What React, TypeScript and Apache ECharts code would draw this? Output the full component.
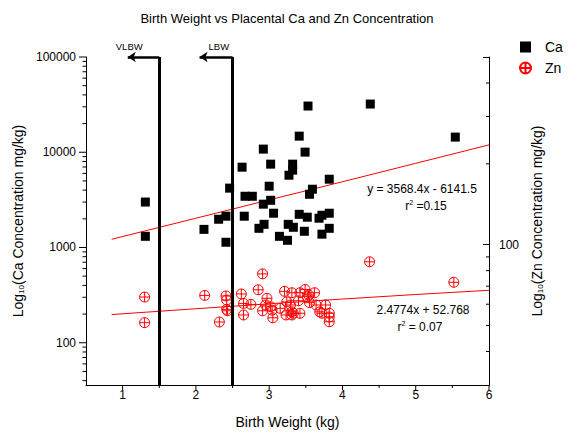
import React, { useEffect, useRef } from 'react';
import * as echarts from 'echarts';

const FONT = "'Liberation Sans', Arial, Helvetica, sans-serif";

// Ca (left axis, log) : [birth weight kg, mg/kg]
const caData: [number, number][] = [
  [1.31, 3000], [1.31, 1310], [2.11, 1550], [2.31, 1980], [2.41, 2130], [2.41, 1135],
  [2.46, 4200], [2.63, 6970], [2.67, 3450], [2.77, 3450], [2.66, 2130], [2.86, 1590],
  [2.93, 1750], [2.92, 10790], [2.92, 2850], [3.0, 4400], [3.02, 7500], [3.02, 3130],
  [3.06, 2290], [3.14, 1310], [3.25, 1190], [3.26, 1750], [3.33, 1630], [3.27, 5740],
  [3.32, 6490], [3.32, 7500], [3.41, 14760], [3.41, 2230], [3.48, 1480], [3.49, 10030],
  [3.52, 2080], [3.53, 30550], [3.55, 3620], [3.59, 4090], [3.68, 2030], [3.72, 2180],
  [3.72, 1380], [3.82, 5210], [3.82, 2290], [3.82, 1590], [4.38, 32060], [5.54, 14420],
];

// Zn (right axis, log) : [birth weight kg, mg/kg]
const znData: [number, number][] = [
  [1.3, 63.8], [1.3, 51.2], [2.12, 64.7], [2.32, 51.5], [2.41, 64.4], [2.42, 62.2],
  [2.42, 57.4], [2.43, 56.7], [2.62, 65.5], [2.65, 60.4], [2.65, 54.7], [2.75, 59.9],
  [2.85, 67.9], [2.91, 77.8], [2.91, 56.7], [2.97, 63.1], [2.95, 59.6], [3.02, 58.7],
  [3.04, 57.0], [3.05, 53.4], [3.15, 57.9], [3.21, 67.0], [3.24, 61.2], [3.23, 54.7],
  [3.29, 59.6], [3.31, 66.2], [3.31, 56.2], [3.31, 54.7], [3.33, 55.5], [3.4, 61.8],
  [3.42, 66.2], [3.42, 55.5], [3.49, 68.1], [3.52, 64.0], [3.54, 64.9], [3.55, 60.8],
  [3.62, 66.2], [3.64, 59.6], [3.69, 56.2], [3.72, 55.5], [3.77, 59.6], [3.82, 55.5],
  [3.82, 53.8], [3.82, 51.6], [4.37, 86.3], [5.52, 72.4],
];

// fitted lines as drawn
const fitX = [0.85, 2, 3, 4, 5, 6];
const caFitY = [1220, 2030, 3160, 4900, 7650, 11950];
const znFitY = [54.9, 57.7, 60.2, 62.7, 65.2, 67.6];

// thresholds
const cutNames = ['VLBW', 'LBW'];
const cutX = [1.5, 2.5];
const cutArrowTo = [1.07, 2.05];
const cutLabelShift = [-12, 9];

// axis ranges and ticks
const xMin = 0.5;
const xMax = 6;
const caMin = 36;
const caMax = 100000;
const znMin = 30;
const znMax = 500;
const xMajorTicks = [1, 2, 3, 4, 5, 6];
const xMinorTicks = [1.5, 2.5, 3.5, 4.5, 5.5];
const caMajorTicks = [100, 1000, 10000, 100000];
const caMinorTicks = [
  40, 50, 60, 70, 80, 90,
  200, 300, 400, 500, 600, 700, 800, 900,
  2000, 3000, 4000, 5000, 6000, 7000, 8000, 9000,
  20000, 30000, 40000, 50000, 60000, 70000, 80000, 90000,
];
const znMinorTicks = [40, 50, 60, 70, 80, 90, 200, 300, 400];

const isPow10 = (v: number) => {
  const l = Math.log10(v);
  return Math.abs(l - Math.round(l)) < 1e-6;
};

function hTicks(values: number[], yAxisIndex: number, xAt: number, dx0: number, dx1: number) {
  return {
    type: 'custom',
    silent: true,
    clip: false,
    xAxisIndex: 0,
    yAxisIndex,
    z: 6,
    data: values.map((v) => [xAt, v]),
    renderItem: (_p: any, api: any) => {
      const p = api.coord([api.value(0), api.value(1)]);
      return {
        type: 'line',
        shape: { x1: p[0] + dx0, y1: p[1], x2: p[0] + dx1, y2: p[1] },
        style: { stroke: '#000', lineWidth: 1 },
      };
    },
  };
}

function vTicks(values: number[], len: number) {
  return {
    type: 'custom',
    silent: true,
    clip: false,
    xAxisIndex: 0,
    yAxisIndex: 0,
    z: 6,
    data: values.map((v) => [v, caMin]),
    renderItem: (_p: any, api: any) => {
      const p = api.coord([api.value(0), api.value(1)]);
      return {
        type: 'line',
        shape: { x1: p[0], y1: p[1], x2: p[0], y2: p[1] + len },
        style: { stroke: '#000', lineWidth: 1 },
      };
    },
  };
}

const znSymbol =
  'path://M10 0A10 10 0 1 1 10 20A10 10 0 1 1 10 0ZM0 10L20 10M10 0L10 20';

export default function App() {
  const ref = useRef<HTMLDivElement>(null);

  useEffect(() => {
    if (!ref.current) return;
    const chart = echarts.init(ref.current, undefined, { renderer: 'svg' });

    const markData: any[] = [];
    cutNames.forEach((name, i) => {
      markData.push([{ coord: [cutX[i], caMin] }, { coord: [cutX[i], caMax] }]);
      markData.push([
        {
          coord: [cutArrowTo[i], caMax],
          symbol: 'arrow',
          symbolSize: 8,
          lineStyle: { width: 2.5 },
          label: {
            show: true,
            formatter: name,
            position: 'insideStartTop',
            distance: [cutLabelShift[i], 6],
            color: '#000',
            fontFamily: FONT,
            fontSize: 9.5,
          },
        },
        { coord: [cutX[i], caMax], symbol: 'none' },
      ]);
    });

    const sub = { fontSize: 8, fontFamily: FONT, padding: [7, 0, 0, 0] };
    const sup = { fontSize: 7, fontFamily: FONT, padding: [0, 0, 7, 0] };

    const option: any = {
      animation: false,
      backgroundColor: '#fff',
      title: {
        text: 'Birth Weight vs Placental Ca and Zn Concentration',
        left: 'center',
        top: 7,
        textStyle: { fontFamily: FONT, fontSize: 13, fontWeight: 'normal', color: '#000' },
      },
      legend: {
        orient: 'vertical',
        left: 514,
        top: 35,
        itemWidth: 11,
        itemHeight: 11,
        itemGap: 7,
        data: ['Ca', 'Zn'],
        textStyle: { fontFamily: FONT, fontSize: 14, color: '#000', padding: [0, 0, 0, 9] },
      },
      grid: { left: 86, right: 85, top: 57, bottom: 50 },
      xAxis: {
        type: 'value',
        min: xMin,
        max: xMax,
        interval: 0.5,
        name: 'Birth Weight (kg)',
        nameLocation: 'middle',
        nameGap: 30,
        nameTextStyle: { fontFamily: FONT, fontSize: 14, color: '#000' },
        axisLine: { show: true, onZero: false, lineStyle: { color: '#000', width: 1 } },
        axisTick: { show: false },
        splitLine: { show: false },
        axisLabel: {
          margin: 4,
          fontFamily: FONT,
          fontSize: 12,
          color: '#000',
          formatter: (v: number) => (xMajorTicks.includes(v) ? String(v) : ''),
        },
      },
      yAxis: [
        {
          type: 'log',
          logBase: 10,
          min: caMin,
          max: caMax,
          position: 'left',
          name: '{a|Log}{s|10}{a|(Ca Concentration mg/kg)}',
          nameLocation: 'middle',
          nameRotate: 90,
          nameGap: 58,
          nameTextStyle: {
            fontFamily: FONT,
            fontSize: 14,
            color: '#000',
            rich: { a: { fontFamily: FONT, fontSize: 14, color: '#000' }, s: { ...sub, color: '#000' } },
          },
          axisLine: { show: true, lineStyle: { color: '#000', width: 1 } },
          axisTick: { show: false },
          splitLine: { show: false },
          minorTick: { show: false },
          axisLabel: {
            margin: 10,
            fontFamily: FONT,
            fontSize: 12,
            color: '#000',
            formatter: (v: number) => (isPow10(v) ? String(Math.round(v)) : ''),
          },
        },
        {
          type: 'log',
          logBase: 10,
          min: znMin,
          max: znMax,
          position: 'right',
          name: '{a|Log}{s|10}{a|(Zn Concentration mg/kg)}',
          nameLocation: 'middle',
          nameRotate: 90,
          nameGap: 39,
          nameTextStyle: {
            fontFamily: FONT,
            fontSize: 14,
            color: '#000',
            rich: { a: { fontFamily: FONT, fontSize: 14, color: '#000' }, s: { ...sub, color: '#000' } },
          },
          axisLine: { show: true, lineStyle: { color: '#000', width: 1 } },
          axisTick: { show: true, inside: true, length: 6, lineStyle: { color: '#000' } },
          splitLine: { show: false },
          minorTick: { show: false },
          axisLabel: {
            margin: 10,
            fontFamily: FONT,
            fontSize: 12,
            color: '#000',
            formatter: (v: number) => (isPow10(v) ? String(Math.round(v)) : ''),
          },
        },
      ],
      graphic: [
        {
          type: 'text',
          x: 422,
          y: 189,
          style: {
            text: 'y = 3568.4x - 6141.5',
            fontFamily: FONT,
            fontSize: 12,
            fill: '#000',
            align: 'center',
            verticalAlign: 'middle',
          },
        },
        {
          type: 'text',
          x: 426,
          y: 206,
          style: {
            text: '{a|r}{s|2}{a| =0.15}',
            fill: '#000',
            align: 'center',
            verticalAlign: 'middle',
            rich: { a: { fontFamily: FONT, fontSize: 12, fill: '#000' }, s: { ...sup, fill: '#000' } },
          },
        },
        {
          type: 'text',
          x: 423,
          y: 310,
          style: {
            text: '2.4774x + 52.768',
            fontFamily: FONT,
            fontSize: 12,
            fill: '#000',
            align: 'center',
            verticalAlign: 'middle',
          },
        },
        {
          type: 'text',
          x: 420,
          y: 327,
          style: {
            text: '{a|r}{s|2}{a| = 0.07}',
            fill: '#000',
            align: 'center',
            verticalAlign: 'middle',
            rich: { a: { fontFamily: FONT, fontSize: 12, fill: '#000' }, s: { ...sup, fill: '#000' } },
          },
        },
      ],
      series: [
        {
          name: 'Ca fit',
          type: 'line',
          yAxisIndex: 0,
          data: fitX.map((x, i) => [x, caFitY[i]]),
          showSymbol: false,
          symbol: 'none',
          lineStyle: { color: '#ff0000', width: 1 },
          z: 3,
          silent: true,
        },
        {
          name: 'Zn fit',
          type: 'line',
          yAxisIndex: 1,
          data: fitX.map((x, i) => [x, znFitY[i]]),
          showSymbol: false,
          symbol: 'none',
          lineStyle: { color: '#ff0000', width: 1 },
          z: 3,
          silent: true,
        },
        {
          name: 'Ca',
          type: 'scatter',
          yAxisIndex: 0,
          data: caData,
          symbol: 'rect',
          symbolSize: 9,
          itemStyle: { color: '#000', opacity: 1 },
          z: 4,
          markLine: {
            silent: true,
            symbol: ['none', 'none'],
            lineStyle: { color: '#000', width: 3, type: 'solid' },
            label: { show: false },
            data: markData,
            z: 5,
          },
        },
        {
          name: 'Zn',
          type: 'scatter',
          yAxisIndex: 1,
          data: znData,
          symbol: znSymbol,
          symbolSize: 10,
          itemStyle: { color: 'rgba(0,0,0,0)', borderColor: '#ff0000', borderWidth: 1, opacity: 1 },
          z: 4,
        },
        hTicks(caMajorTicks, 0, xMin, -7, 0),
        hTicks(caMinorTicks, 0, xMin, -3.5, 0),
        hTicks(znMinorTicks, 1, xMax, -3, 0),
        vTicks(xMajorTicks, 5),
        vTicks(xMinorTicks, 3),
      ],
    };

    chart.setOption(option);
    return () => chart.dispose();
  }, []);

  return (
    <div
      ref={ref}
      style={{ position: 'absolute', left: 0, top: 0, width: 574, height: 435 }}
    />
  );
}
